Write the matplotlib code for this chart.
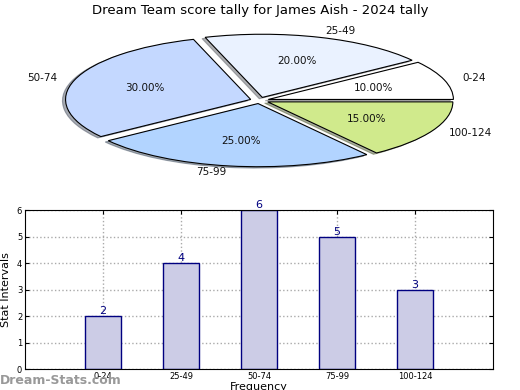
import matplotlib
matplotlib.use("Agg")
import matplotlib.pyplot as plt

# data
intervals = ['0-24', '25-49', '50-74', '75-99', '100-124']
counts = [2, 4, 6, 5, 3]
pie_colors = ['#ffffff', '#eaf2ff', '#c4d8ff', '#b2d4ff', '#d0ea8c']

fig = plt.figure(figsize=(5.2, 3.9), dpi=100)

# pie (squashed, as in the old site charts)
ax1 = fig.add_axes([0.054, 0.54, 0.89, 0.405])
wedges, texts, autotexts = ax1.pie(counts, labels=intervals, colors=pie_colors,
                                   explode=[0.05] * len(counts), autopct='%1.2f%%',
                                   shadow={'ox': -0.012, 'oy': -0.015, 'shade': 0.6},
                                   startangle=0, pctdistance=0.6, labeldistance=1.1,
                                   wedgeprops={'edgecolor': 'black', 'linewidth': 0.8},
                                   textprops={'fontsize': 7.5, 'color': '#111111'})
ax1.set_aspect('auto')
ax1.set_xlim(-1.25, 1.25)
ax1.set_ylim(-1.25, 1.25)
fig.text(0.5, 0.973, 'Dream Team score tally for James Aish - 2024 tally',
         ha='center', va='center', fontsize=9.5)

# bar chart
ax2 = fig.add_axes([0.048, 0.0538, 0.9, 0.4077])
pos = list(range(1, len(counts) + 1))
ax2.bar(pos, counts, width=0.46, color='#cccce6', edgecolor='#000080', linewidth=1, zorder=2)
for x, v in zip(pos, counts):
    ax2.text(x, v, str(v), ha='center', va='bottom', color='#000080', fontsize=8, zorder=3)
ax2.set_xlim(0, 6)
ax2.set_ylim(0, 6)
ax2.set_xticks(pos)
ax2.set_xticklabels(intervals)
ax2.set_yticks(range(0, 7))
ax2.tick_params(labelsize=6, direction='in', length=3, top=True, right=True, pad=2)
ax2.grid(True, linestyle=':', color='#aaaaaa', linewidth=1, zorder=0)
ax2.set_axisbelow(True)
ax2.set_ylabel('Stat Intervals', fontsize=8, labelpad=4)
ax2.set_xlabel('Frequency', fontsize=8, labelpad=1)

fig.text(0.0, 0.025, 'Dream-Stats.com', fontsize=9, color='#999999',
         fontweight='bold', ha='left', va='center')

fig.savefig('out.png', dpi=100)
